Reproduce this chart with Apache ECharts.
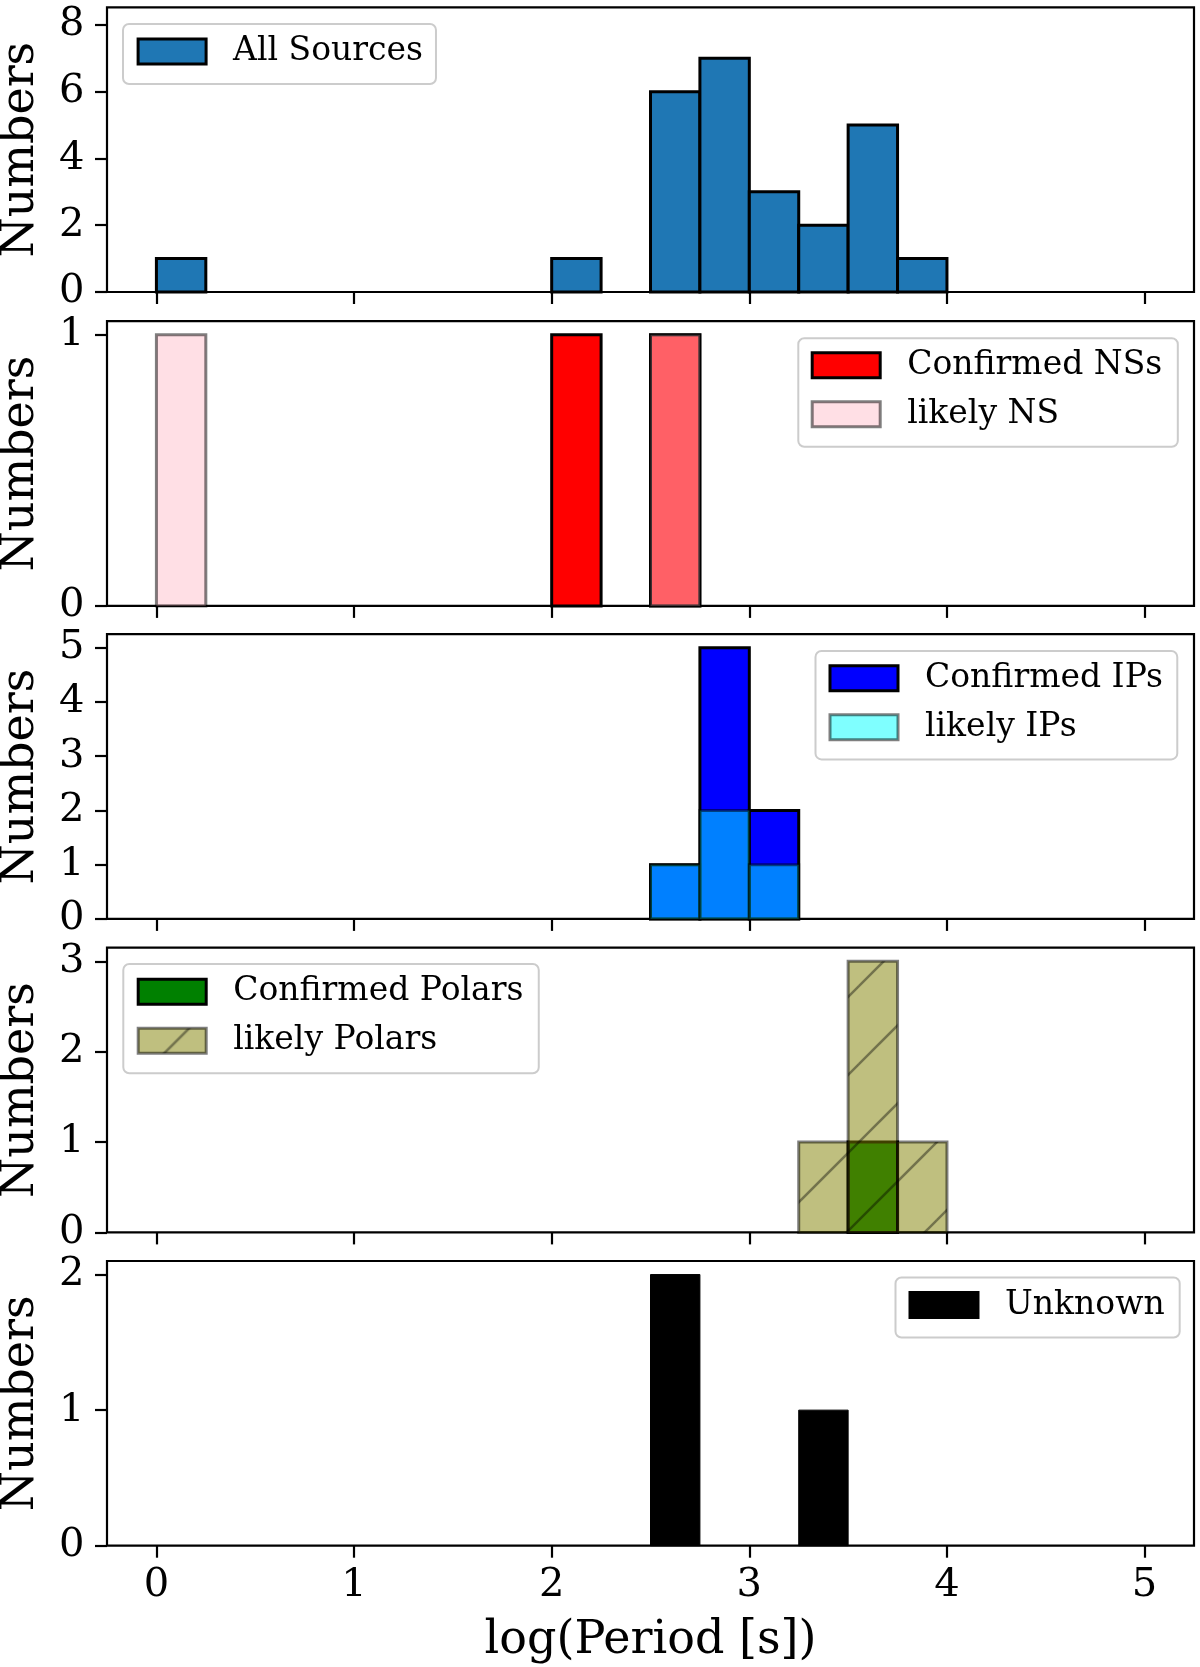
<!DOCTYPE html>
<html>
<head>
<meta charset="utf-8">
<script src="https://cdn.jsdelivr.net/npm/echarts@6/dist/echarts.min.js"></script>
<style>
html,body{margin:0;padding:0;background:#fff;}
#chart{width:1200px;height:1667px;}
</style>
</head>
<body>
<div id="chart"></div>
<script>
// ---------------- data ----------------
const binWidth = 0.25;
const xTicks = [0, 1, 2, 3, 4, 5];

const allSourcesBins   = [0, 2, 2.5, 2.75, 3, 3.25, 3.5, 3.75];
const allSourcesCounts = [1, 1, 6, 7, 3, 2, 5, 1];

const confirmedNSBins   = [2, 2.5];
const confirmedNSCounts = [1, 1];
const likelyNSBins   = [0, 2.5];
const likelyNSCounts = [1, 1];

const confirmedIPBins   = [2.5, 2.75, 3];
const confirmedIPCounts = [1, 5, 2];
const likelyIPBins   = [2.5, 2.75, 3];
const likelyIPCounts = [1, 2, 1];

const confirmedPolarBins   = [3.5];
const confirmedPolarCounts = [1];
const likelyPolarBins   = [3.25, 3.5, 3.75];
const likelyPolarCounts = [1, 3, 1];

const unknownBins   = [2.5, 3.25];
const unknownCounts = [2, 1];

const yTicks1 = [0, 2, 4, 6, 8];
const yTicks2 = [0, 1];
const yTicks3 = [0, 1, 2, 3, 4, 5];
const yTicks4 = [0, 1, 2, 3];
const yTicks5 = [0, 1, 2];
const yMaxes = [8.53, 1.05, 5.25, 3.15, 2.1];

const xAxisTitle = 'log(Period [s])';
const yAxisTitle = 'Numbers';

// ---------------- style ----------------
const FONT = 'DejaVu Serif';
const TICK_FONT = 40;
const gridTops = [7.3, 321.2, 634.2, 947.7, 1261];
const gridH = 284.7;

function makeHatch() {
  const s = 78;
  const c = document.createElement('canvas');
  c.width = s; c.height = s;
  const g = c.getContext('2d');
  g.fillStyle = 'rgba(128,128,0,0.5)';
  g.fillRect(0, 0, s, s);
  g.strokeStyle = 'rgba(0,0,0,0.4)';
  g.lineWidth = 2.6;
  for (let k = -1; k <= 2; k++) {
    const c0 = 51 + s * k;
    g.beginPath();
    g.moveTo(-10, c0 + 10);
    g.lineTo(c0 + 10, -10);
    g.stroke();
  }
  return c;
}
const hatchPattern = { image: makeHatch(), repeat: 'repeat' };

function histSeries(name, idx, bins, counts, fill, stroke, lw) {
  return {
    type: 'custom',
    name: name,
    xAxisIndex: idx,
    yAxisIndex: idx,
    silent: true,
    animation: false,
    encode: { x: [0, 1], y: 2 },
    itemStyle: { color: fill, borderColor: stroke, borderWidth: lw },
    data: bins.map((b, i) => [b, b + binWidth, counts[i]]),
    renderItem: function (params, api) {
      const x0 = api.value(0), x1 = api.value(1), h = api.value(2);
      const p0 = api.coord([x0, h]);
      const p1 = api.coord([x1, 0]);
      return {
        type: 'rect',
        shape: { x: p0[0], y: p0[1], width: p1[0] - p0[0], height: p1[1] - p0[1] },
        style: { fill: fill, stroke: stroke, lineWidth: lw }
      };
    }
  };
}

const yTickSets = [yTicks1, yTicks2, yTicks3, yTicks4, yTicks5];

const grids = gridTops.map(t => ({
  left: 107, width: 1087, top: t, height: gridH,
  show: true, borderColor: '#000', borderWidth: 2.2,
  backgroundColor: 'transparent', containLabel: false, outerBoundsMode: 'none'
}));

const xAxes = gridTops.map((t, i) => ({
  gridIndex: i, type: 'value', min: -0.25, max: 5.25, position: 'bottom',
  axisLine: { show: false, onZero: false },
  splitLine: { show: false },
  axisTick: { show: true, customValues: xTicks, length: 12, lineStyle: { color: '#000', width: 2.2 } },
  axisLabel: { show: i === 4, customValues: xTicks, margin: 20, fontSize: TICK_FONT, fontFamily: FONT, color: '#000' },
  name: i === 4 ? xAxisTitle : '',
  nameLocation: 'middle', nameGap: 72, nameMoveOverlap: false,
  nameTextStyle: { fontSize: 46, fontFamily: FONT, color: '#000' }
}));

const yAxes = gridTops.map((t, i) => ({
  gridIndex: i, type: 'value', min: 0, max: yMaxes[i], position: 'left',
  axisLine: { show: false, onZero: false },
  splitLine: { show: false },
  axisTick: { show: true, customValues: yTickSets[i], length: 12, lineStyle: { color: '#000', width: 2.2 } },
  axisLabel: { customValues: yTickSets[i], margin: 22.5, fontSize: TICK_FONT, fontFamily: FONT, color: '#000' },
  name: yAxisTitle, nameLocation: 'middle', nameGap: 63, nameRotate: 90, nameMoveOverlap: false,
  nameTextStyle: { fontSize: 46, fontFamily: FONT, color: '#000' }
}));

function legendBox(names, left, top, padding) {
  return {
    data: names, left: left, top: top, orient: 'vertical',
    icon: 'rect', itemWidth: 68, itemHeight: 25, itemGap: 16,
    selectedMode: false,
    backgroundColor: 'rgba(255,255,255,0.8)', borderColor: '#cccccc', borderWidth: 2, borderRadius: 6,
    padding: padding,
    itemStyle: { borderWidth: 3 },
    textStyle: { fontSize: 33, fontFamily: FONT, color: '#000', padding: [0, 0, 0, 22] }
  };
}

const option = {
  animation: false,
  backgroundColor: '#fff',
  grid: grids,
  xAxis: xAxes,
  yAxis: yAxes,
  legend: [
    legendBox(['All Sources'], 123, 24, [11, 13, 16, 13.6]),
    legendBox(['Confirmed NSs', 'likely NS'], 798.3, 338.3, [10.4, 15.6, 16, 12.4]),
    legendBox(['Confirmed IPs', 'likely IPs'], 815.5, 651, [10.8, 14.4, 15.6, 13]),
    legendBox(['Confirmed Polars', 'likely Polars'], 123.3, 964, [11.2, 15.3, 16, 13.4]),
    legendBox(['Unknown'], 895.5, 1277.5, [11, 15, 16, 13])
  ],
  series: [
    histSeries('All Sources', 0, allSourcesBins, allSourcesCounts, '#1f77b4', '#000', 3),
    histSeries('Confirmed NSs', 1, confirmedNSBins, confirmedNSCounts, '#ff0000', '#000', 3),
    histSeries('likely NS', 1, likelyNSBins, likelyNSCounts, 'rgba(255,192,203,0.5)', 'rgba(0,0,0,0.5)', 3),
    histSeries('Confirmed IPs', 2, confirmedIPBins, confirmedIPCounts, '#0000ff', '#000', 3),
    histSeries('likely IPs', 2, likelyIPBins, likelyIPCounts, 'rgba(0,255,255,0.5)', 'rgba(0,0,0,0.5)', 3),
    histSeries('Confirmed Polars', 3, confirmedPolarBins, confirmedPolarCounts, '#008000', '#000', 3),
    histSeries('likely Polars', 3, likelyPolarBins, likelyPolarCounts, hatchPattern, 'rgba(0,0,0,0.5)', 3),
    histSeries('Unknown', 4, unknownBins, unknownCounts, '#000000', '#000', 1)
  ]
};

const chart = echarts.init(document.getElementById('chart'), null, { renderer: 'canvas' });
chart.setOption(option);
</script>
</body>
</html>
